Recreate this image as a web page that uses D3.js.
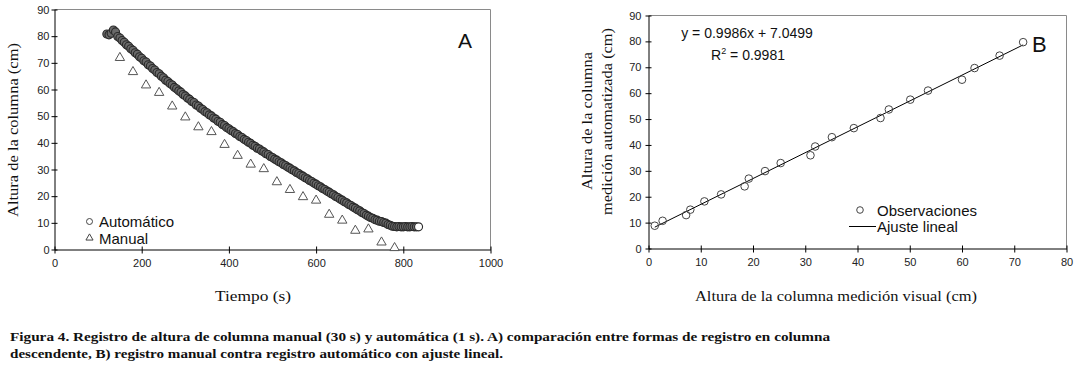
<!DOCTYPE html>
<html>
<head>
<meta charset="utf-8">
<script src="https://cdn.jsdelivr.net/npm/d3@7"></script>
<style>
  body { margin: 0; background: #fff; }
  .tk text { font-family: "Liberation Sans", Arial, sans-serif; font-size: 11px; fill: #222; }
  .sans { font-family: "Liberation Sans", Arial, sans-serif; fill: #111; }
  .serif { font-family: "Liberation Serif", "Times New Roman", serif; fill: #111; }
</style>
</head>
<body>
<svg id="fig" width="1076" height="365"></svg>
<script>
// panel A: automatic record (sampled) and manual record every 30 s
var auto_data = [
  [120,80.8],[125,80.5],[130,81.1],[135,82.3],[140,81.6],[145,79.9],[150,79.3],[155,78.4],[160,77.7],[165,76.8],
  [170,76.2],[175,75.3],[180,74.7],[185,73.8],[190,73.2],[195,72.3],[200,71.7],[205,70.8],[210,70.3],[215,69.3],
  [220,68.8],[225,67.9],[230,67.3],[235,66.4],[240,65.9],[245,65.0],[250,64.4],[255,63.5],[260,63.0],[265,62.2],
  [270,61.7],[275,60.8],[280,60.3],[285,59.5],[290,59.0],[295,58.1],[300,57.6],[305,56.8],[310,56.3],[315,55.5],
  [320,55.1],[325,54.2],[330,53.8],[335,53.0],[340,52.5],[345,51.7],[350,51.3],[355,50.5],[360,50.1],[365,49.3],
  [370,48.9],[375,48.1],[380,47.7],[385,46.9],[390,46.5],[395,45.7],[400,45.3],[405,44.6],[410,44.2],[415,43.5],
  [420,43.1],[425,42.4],[430,42.0],[435,41.3],[440,40.9],[445,40.2],[450,39.8],[455,39.1],[460,38.7],[465,38.0],
  [470,37.7],[475,37.0],[480,36.6],[485,35.9],[490,35.6],[495,34.9],[500,34.5],[505,33.9],[510,33.5],[515,32.9],
  [520,32.5],[525,31.9],[530,31.5],[535,30.9],[540,30.5],[545,29.9],[550,29.5],[555,28.9],[560,28.5],[565,27.9],
  [570,27.5],[575,26.9],[580,26.5],[585,25.9],[590,25.5],[595,24.9],[600,24.5],[605,23.9],[610,23.5],[615,22.9],
  [620,22.5],[625,21.9],[630,21.5],[635,20.9],[640,20.5],[645,19.9],[650,19.5],[655,18.9],[660,18.5],[665,17.9],
  [670,17.5],[675,16.9],[680,16.5],[685,15.9],[690,15.5],[695,14.9],[700,14.5],[705,13.9],[710,13.5],[715,12.9],
  [720,12.5],[725,12.0],[730,11.7],[735,11.2],[740,11.0],[745,10.6],[750,10.5],[755,10.1],[760,9.9],[765,9.4],
  [770,9.1],[775,8.7],[780,8.6],[785,8.5],[790,8.6],[795,8.5],[800,8.5],[805,8.6],[810,8.5],[815,8.5],
  [820,8.6],[825,8.5],[830,8.5],[835,8.5]
];
var manual_t = [150,180,210,240,270,300,330,360,390,420,450,480,510,540,570,600,630,660,690,720,750,780];
var manual_h = [71.9,66.6,61.6,58.8,53.7,49.6,45.9,44.1,39.3,35.2,31.9,30.2,25.3,22.4,19.7,18.4,13.1,10.9,7.1,7.6,2.7,0.6];
var a_xticks = [0,200,400,600,800,1000];
var a_yticks = [0,10,20,30,40,50,60,70,80,90];

// panel B: visual vs automated observations
var obs_x = [1.2,2.7,7.2,8.0,10.7,13.9,18.4,19.2,22.3,25.3,31.0,31.9,35.1,39.3,44.4,46.0,50.1,53.5,60.0,62.4,67.2,71.7];
var obs_y = [8.8,10.7,12.9,15.0,18.2,20.9,24.0,27.0,29.9,33.0,36.0,39.4,43.0,46.5,50.4,53.7,57.5,61.0,65.2,69.7,74.5,79.7];
var fit_slope = 0.9986, fit_icpt = 7.0499;
var b_xticks = [0,10,20,30,40,50,60,70,80];
var b_yticks = [0,10,20,30,40,50,60,70,80,90];

var svg = d3.select('#fig');

function draw_axes(g, xs, ys, xt, yt, ylab_pad)  {
  var x0 = xs.range()[0], x1 = xs.range()[1], y0 = ys.range()[0], y1 = ys.range()[1];
  // grey frame top/right
  g.append('path').attr('d', 'M' + x0 + ',' + y1 + 'H' + x1 + 'V' + y0)
    .attr('fill', 'none').attr('stroke', '#8a8a8a').attr('stroke-width', 1);
  var xa = g.append('g').attr('class', 'tk').attr('transform', 'translate(0,' + y0 + ')')
    .call(d3.axisBottom(xs).tickValues(xt).tickFormat(d3.format('d')).tickSize(4).tickSizeOuter(0).tickPadding(6));
  xa.selectAll('.tick line').attr('y1', -3);
  var ya = g.append('g').attr('class', 'tk').attr('transform', 'translate(' + x0 + ',0)')
    .call(d3.axisLeft(ys).tickValues(yt).tickFormat(d3.format('d')).tickSize(3).tickSizeOuter(0).tickPadding(ylab_pad));
  ya.selectAll('.tick line').attr('x1', 3);
  g.selectAll('.domain').attr('stroke', '#000');
  g.selectAll('.tick line').attr('stroke', '#000');
}

// ---------- panel A ----------
var xa_s = d3.scaleLinear().domain([0,1000]).range([54.5,490.5]);
var ya_s = d3.scaleLinear().domain([0,90]).range([249.5,9.5]);
var ga = svg.append('g');
draw_axes(ga, xa_s, ya_s, a_xticks, a_yticks, 2);

var tri = d3.symbol().type(d3.symbolTriangle);
ga.selectAll('.man').data(manual_t).enter().append('path').attr('class', 'man')
  .attr('d', tri.size(38))
  .attr('transform', (d, i) => 'translate(' + xa_s(d) + ',' + ya_s(manual_h[i]) + ')')
  .attr('fill', '#fff').attr('stroke', '#555').attr('stroke-width', 1);

var n_auto = auto_data.length;
ga.selectAll('.aut').data(auto_data).enter().append('circle').attr('class', 'aut')
  .attr('cx', d => xa_s(d[0])).attr('cy', d => ya_s(d[1])).attr('r', 4)
  .attr('fill', (d, i) => i == n_auto - 1 ? '#fff' : '#6a6a6a')
  .attr('stroke', '#2a2a2a').attr('stroke-width', 1.1);

ga.append('text').attr('class', 'sans').attr('x', 465).attr('y', 48).attr('text-anchor', 'middle')
  .style('font-size', '21px').text('A');

// legend A
ga.append('circle').attr('cx', 89.5).attr('cy', 221.5).attr('r', 3).attr('fill', 'none').attr('stroke', '#444');
ga.append('path').attr('d', tri.size(22)).attr('transform', 'translate(89.5,238)').attr('fill', 'none').attr('stroke', '#444');
ga.append('text').attr('class', 'sans').attr('x', 99).attr('y', 227).style('font-size', '15px').text('Automático');
ga.append('text').attr('class', 'sans').attr('x', 99).attr('y', 243.5).style('font-size', '15px').text('Manual');

ga.append('text').attr('class', 'serif').attr('transform', 'translate(18,130) rotate(-90)')
  .attr('text-anchor', 'middle').style('font-size', '15px')
  .attr('textLength', 174).attr('lengthAdjust', 'spacingAndGlyphs').text('Altura de la columna (cm)');
ga.append('text').attr('class', 'serif').attr('x', 253).attr('y', 301).attr('text-anchor', 'middle')
  .style('font-size', '15px').attr('textLength', 76).attr('lengthAdjust', 'spacingAndGlyphs').text('Tiempo  (s)');

// ---------- panel B ----------
var xb_s = d3.scaleLinear().domain([0,80]).range([648.5,1066.5]);
var yb_s = d3.scaleLinear().domain([0,90]).range([248.5,15.5]);
var gb = svg.append('g');
draw_axes(gb, xb_s, yb_s, b_xticks, b_yticks, 4);

var fit_x = [d3.min(obs_x), d3.max(obs_x)];
gb.append('line')
  .attr('x1', xb_s(fit_x[0])).attr('y1', yb_s(fit_slope*fit_x[0] + fit_icpt))
  .attr('x2', xb_s(fit_x[1])).attr('y2', yb_s(fit_slope*fit_x[1] + fit_icpt))
  .attr('stroke', '#000').attr('stroke-width', 1);

gb.selectAll('.obs').data(obs_x).enter().append('circle').attr('class', 'obs')
  .attr('cx', d => xb_s(d)).attr('cy', (d, i) => yb_s(obs_y[i])).attr('r', 3.8)
  .attr('fill', 'none').attr('stroke', '#444').attr('stroke-width', 1);

gb.append('text').attr('class', 'sans').attr('x', 747).attr('y', 38).attr('text-anchor', 'middle')
  .style('font-size', '14px').text('y = 0.9986x + 7.0499');
var r2 = gb.append('text').attr('class', 'sans').attr('x', 748).attr('y', 60).attr('text-anchor', 'middle')
  .style('font-size', '14px');
r2.append('tspan').text('R');
r2.append('tspan').attr('dy', -6).style('font-size', '9px').text('2');
r2.append('tspan').attr('dy', 6).text(' = 0.9981');

gb.append('text').attr('class', 'sans').attr('x', 1032).attr('y', 52).style('font-size', '22px').text('B');

// legend B
gb.append('circle').attr('cx', 860).attr('cy', 210).attr('r', 3.3).attr('fill', 'none').attr('stroke', '#444');
gb.append('line').attr('x1', 849).attr('x2', 876).attr('y1', 226.5).attr('y2', 226.5).attr('stroke', '#000');
gb.append('text').attr('class', 'sans').attr('x', 877).attr('y', 215.5).style('font-size', '15px').text('Observaciones');
gb.append('text').attr('class', 'sans').attr('x', 877).attr('y', 232).style('font-size', '15px').text('Ajuste lineal');

gb.append('text').attr('class', 'serif').attr('transform', 'translate(592,121) rotate(-90)')
  .attr('text-anchor', 'middle').style('font-size', '15px')
  .attr('textLength', 138).attr('lengthAdjust', 'spacingAndGlyphs').text('Altura de la columna');
gb.append('text').attr('class', 'serif').attr('transform', 'translate(612,121.5) rotate(-90)')
  .attr('text-anchor', 'middle').style('font-size', '15px')
  .attr('textLength', 187).attr('lengthAdjust', 'spacingAndGlyphs').text('medición automatizada (cm)');
gb.append('text').attr('class', 'serif').attr('x', 836).attr('y', 301).attr('text-anchor', 'middle')
  .style('font-size', '15px').attr('textLength', 282).attr('lengthAdjust', 'spacingAndGlyphs')
  .text('Altura de la columna medición visual (cm)');

// ---------- caption ----------
svg.append('text').attr('class', 'serif').attr('x', 10).attr('y', 341)
  .style('font-size', '12.5px').style('font-weight', 'bold')
  .attr('textLength', 820).attr('lengthAdjust', 'spacingAndGlyphs')
  .text('Figura 4. Registro de altura de columna manual (30 s) y automática (1 s). A) comparación entre formas de registro en columna');
svg.append('text').attr('class', 'serif').attr('x', 10).attr('y', 358)
  .style('font-size', '12.5px').style('font-weight', 'bold')
  .attr('textLength', 493).attr('lengthAdjust', 'spacingAndGlyphs')
  .text('descendente, B) registro manual contra registro automático con ajuste lineal.');
</script>
</body>
</html>
